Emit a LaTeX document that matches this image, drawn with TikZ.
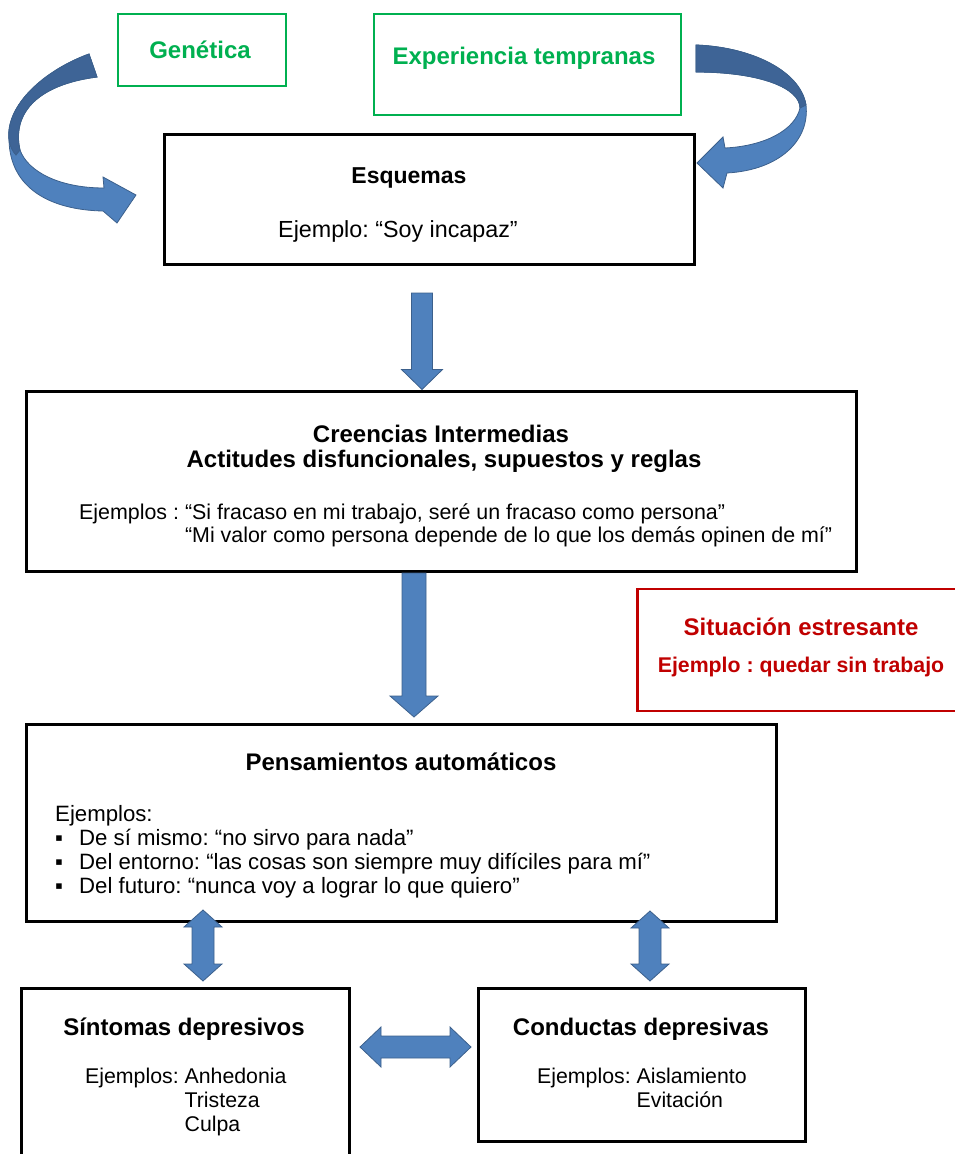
\documentclass[tikz,border=0pt]{standalone}
\usepackage{fontspec}
\setmainfont{Liberation Sans}
\usetikzlibrary{calc}
\frenchspacing
\definecolor{verde}{RGB}{0,176,80}
\definecolor{rojo}{RGB}{192,0,0}
\definecolor{azul}{RGB}{79,129,189}
\definecolor{azuloscuro}{RGB}{62,100,150}
\definecolor{bordeazul}{RGB}{60,96,140}

% flecha de bloque hacia abajo: cola, punta, medio ancho del cuerpo, medio ancho de la punta, largo de la punta
\newcommand{\flechaabajo}[5]{%
  \draw[bloque] ($(#1)+(-#3,0)$) -- ($(#1)+(#3,0)$) -- ($(#2)+(#3,-#5)$) -- ($(#2)+(#4,-#5)$)
    -- (#2) -- ($(#2)+(-#4,-#5)$) -- ($(#2)+(-#3,-#5)$) -- cycle;}
% flecha doble vertical: punta de arriba, punta de abajo
\newcommand{\flechadoblev}[5]{%
  \draw[bloque] (#1) -- ($(#1)+(#4,#5)$) -- ($(#1)+(#3,#5)$) -- ($(#2)+(#3,-#5)$) -- ($(#2)+(#4,-#5)$)
    -- (#2) -- ($(#2)+(-#4,-#5)$) -- ($(#2)+(-#3,-#5)$) -- ($(#1)+(-#3,#5)$) -- ($(#1)+(-#4,#5)$) -- cycle;}
% flecha doble horizontal: punta izquierda, punta derecha
\newcommand{\flechadobleh}[5]{%
  \draw[bloque] (#1) -- ($(#1)+(#5,-#4)$) -- ($(#1)+(#5,-#3)$) -- ($(#2)+(-#5,-#3)$) -- ($(#2)+(-#5,-#4)$)
    -- (#2) -- ($(#2)+(-#5,#4)$) -- ($(#2)+(-#5,#3)$) -- ($(#1)+(#5,#3)$) -- ($(#1)+(#5,#4)$) -- cycle;}

\begin{document}
\begin{tikzpicture}[x=1pt, y=-1pt,
    caja/.style={draw=black, line width=3pt, inner sep=0pt},
    cajaverde/.style={draw=verde, line width=2.5pt, inner sep=0pt},
    cajaroja/.style={draw=rojo, line width=2.5pt, inner sep=0pt},
    titulo/.style={inner sep=0pt, anchor=base, font=\fontsize{24}{28}\selectfont\bfseries},
    texto/.style={inner sep=0pt, anchor=base west, font=\fontsize{21.4}{24}\selectfont},
    bloque/.style={fill=azul, draw=bordeazul, line width=0.8pt, line join=miter}]
    \clip (0,0) rectangle (955,1154);

    % cajas
    \node[cajaverde, minimum width=168, minimum height=72] (gen) at (202,50) {};
    \node[cajaverde, minimum width=307, minimum height=101] (exp) at (527.5,64.5) {};
    \node[caja, minimum width=530, minimum height=130] (esq) at (429,199) {};
    \node[caja, minimum width=830, minimum height=180] (cre) at (441,481) {};
    \node[cajaroja, minimum width=331, minimum height=122] (sit) at (803,650) {};
    \node[caja, minimum width=750, minimum height=197] (pen) at (401,822.5) {};
    \node[caja, minimum width=328, minimum height=181] (sin) at (185,1078.5) {};
    \node[caja, minimum width=327, minimum height=153] (con) at (641.5,1064.5) {};

    % textos
    \node[titulo, text=verde] (tgen) at (200,58) {Genética};
    \node[titulo, text=verde] (texp) at (524,64) {Experiencia tempranas};
    \node[titulo, font=\fontsize{23}{28}\selectfont\bfseries] (tesq) at (409,183) {Esquemas};
    \node[titulo, font=\fontsize{23.3}{28}\selectfont] (eesq) at (398,237) {Ejemplo: “Soy incapaz”};
    \node[titulo] (tcre1) at (441,442) {Creencias Intermedias};
    \node[titulo] (tcre2) at (444,467) {Actitudes disfuncionales, supuestos y reglas};
    \node[texto] (ecre1) at (79,519) {Ejemplos : “Si fracaso en mi trabajo, seré un fracaso como persona”};
    \node[texto] (ecre2) at (79,542) {\hphantom{Ejemplos : }“Mi valor como persona depende de lo que los demás opinen de mí”};
    \node[titulo, text=rojo] (tsit) at (801,635) {Situación estresante};
    \node[titulo, text=rojo, font=\fontsize{21.3}{26}\selectfont\bfseries] (esit) at (801,672) {Ejemplo : quedar sin trabajo};
    \node[titulo] (tpen) at (401,770) {Pensamientos automáticos};
    \node[texto, font=\fontsize{22.2}{24}\selectfont] (epen0) at (55,821) {Ejemplos:};
    \node[texto, font=\fontsize{22.2}{24}\selectfont] (epen1) at (55,845) {\makebox[24pt][l]{▪}De sí mismo: “no sirvo para nada”};
    \node[texto, font=\fontsize{22.2}{24}\selectfont] (epen2) at (55,869) {\makebox[24pt][l]{▪}Del entorno: “las cosas son siempre muy difíciles para mí”};
    \node[texto, font=\fontsize{22.2}{24}\selectfont] (epen3) at (55,893) {\makebox[24pt][l]{▪}Del futuro: “nunca voy a lograr lo que quiero”};
    \node[titulo] (tsin) at (184,1035) {Síntomas depresivos};
    \node[texto, font=\fontsize{21.3}{24}\selectfont] (esin1) at (85,1083) {Ejemplos: Anhedonia};
    \node[texto, font=\fontsize{21.3}{24}\selectfont] (esin2) at (85,1107) {\hphantom{Ejemplos: }Tristeza};
    \node[texto, font=\fontsize{21.3}{24}\selectfont] (esin3) at (85,1131) {\hphantom{Ejemplos: }Culpa};
    \node[titulo] (tcon) at (641,1035) {Conductas depresivas};
    \node[texto, font=\fontsize{21.3}{24}\selectfont] (econ1) at (537,1083) {Ejemplos: Aislamiento};
    \node[texto, font=\fontsize{21.3}{24}\selectfont] (econ2) at (537,1107) {\hphantom{Ejemplos: }Evitación};

    % flechas rectas
    \coordinate (c1) at (422,293);
    \flechaabajo{c1}{c1 |- cre.north}{10.5}{20.5}{20}
    \coordinate (c2) at (414,573);
    \coordinate (p2) at (414,717);
    \flechaabajo{c2}{p2}{12}{24}{21}
    \coordinate (d1) at (203,910);
    \coordinate (d2) at (203,981);
    \flechadoblev{d1}{d2}{11}{19}{17}
    \coordinate (d3) at (650,911);
    \coordinate (d4) at (650,981);
    \flechadoblev{d3}{d4}{11}{19}{17}
    \coordinate (h1) at (360,1047);
    \coordinate (h2) at (471,1047);
    \flechadobleh{h1}{h2}{11}{20}{21}

    % flechas curvas
    \draw[bloque] (89,54) .. controls (45,70) and (5,105) .. (9,140)
        .. controls (10,188) and (50,210) .. (103,211) -- (117,223) -- (136,195) -- (103,177) -- (104,188)
        .. controls (60,188) and (28,172) .. (20,150) .. controls (12,115) and (35,85) .. (97,77) -- cycle;
    \draw[bloque, fill=azuloscuro] (89,54) .. controls (45,70) and (5,105) .. (9,140)
        .. controls (10,147) and (13,152) .. (16,155) -- (20,150) .. controls (12,115) and (35,85) .. (97,77) -- cycle;
    \draw[bloque] (696,45) .. controls (750,47) and (800,70) .. (806,105)
        .. controls (810,140) and (780,170) .. (727,173) -- (723,188) -- (697,163) -- (723,137) -- (725,148)
        .. controls (765,146) and (795,130) .. (800,108) .. controls (800,88) and (760,72) .. (696,72) -- cycle;
    \draw[bloque, fill=azuloscuro] (696,45) .. controls (750,47) and (800,70) .. (806,105)
        -- (800,108) .. controls (800,88) and (760,72) .. (696,72) -- cycle;
\end{tikzpicture}
\end{document}
